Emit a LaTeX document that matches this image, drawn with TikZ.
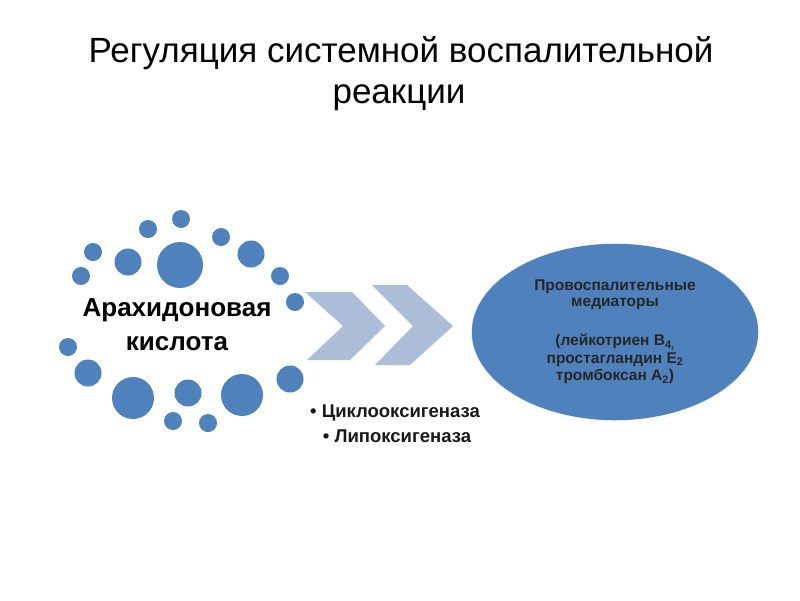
\documentclass[tikz,border=0pt]{standalone}
\usepackage{fontspec}
\setmainfont{Liberation Sans}
\usetikzlibrary{shapes.geometric,positioning}
\definecolor{dotblue}{RGB}{79,129,189}
\definecolor{chevblue}{RGB}{172,189,215}

\begin{document}
\begin{tikzpicture}[x=1pt,y=-1pt,
	dot/.style={circle,fill=dotblue,inner sep=0pt},
	tiny/.style={dot,minimum size=18pt},
	mid/.style={dot,minimum size=27pt},
	big/.style={dot,minimum size=42pt},
	chev/.style={fill=chevblue},
	title/.style={font=\fontsize{35}{41}\selectfont,anchor=base},
	acid/.style={font=\bfseries\fontsize{26}{32}\selectfont,anchor=base},
	enzyme/.style={font=\bfseries\fontsize{18.5}{20}\selectfont,anchor=base,text=black!90}]
	\useasboundingbox[fill=white] (0,0) rectangle (800,600);
	% title
	\node[title] (title1) at (401,62) {Регуляция системной воспалительной};
	\node[title] (title2) at (399,103) {реакции};
	% ring of dots
	\node[tiny] (d1)  at (181,219) {};
	\node[tiny] (d2)  at (148,229) {};
	\node[tiny] (d3)  at (221,237) {};
	\node[tiny] (d4)  at (93,252) {};
	\node[tiny] (d5)  at (81,276) {};
	\node[tiny] (d6)  at (280,276) {};
	\node[tiny] (d7)  at (295,302) {};
	\node[tiny] (d8)  at (68,347) {};
	\node[tiny] (d9)  at (173,421) {};
	\node[tiny] (d10) at (208,423) {};
	\node[mid]  (d11) at (128,262) {};
	\node[mid]  (d12) at (251,254) {};
	\node[mid]  (d13) at (188,393) {};
	\node[mid]  (d14) at (88,373) {};
	\node[mid]  (d15) at (290,379) {};
	\node[big,minimum size=46pt] (d16) at (180,265) {};
	\node[big]  (d17) at (133,398) {};
	\node[big]  (d18) at (242,395) {};
	\node[acid] (acid1) at (177,316) {Арахидоновая};
	\node[acid] (acid2) at (177,350) {кислота};
	% chevrons
	\fill[chev] (305,292) -- (352,292) -- (385,326) -- (350,360) -- (307,360) -- (343,326) -- cycle;
	\fill[chev] (372,285) -- (407,285) -- (453,326) -- (410,365) -- (375,365) -- (413,326) -- cycle;
	\node[enzyme] (cox) at (395,417) {• Циклооксигеназа};
	\node[enzyme] (lox) at (397,442) {• Липоксигеназа};
	% mediators
	\node[ellipse,fill=dotblue,draw=white,minimum width=287pt,minimum height=177pt,inner sep=0pt,
		align=center,text=black!85,font=\bfseries\fontsize{15.5}{16}\selectfont] (med) at (615,332)
		{Провоспалительные\\медиаторы\\[23pt](лейкотриен B\textsubscript{4,}\\[1.5pt]простагландин E\textsubscript{2}\\[1.5pt]тромбоксан A\textsubscript{2})};
\end{tikzpicture}
\end{document}
